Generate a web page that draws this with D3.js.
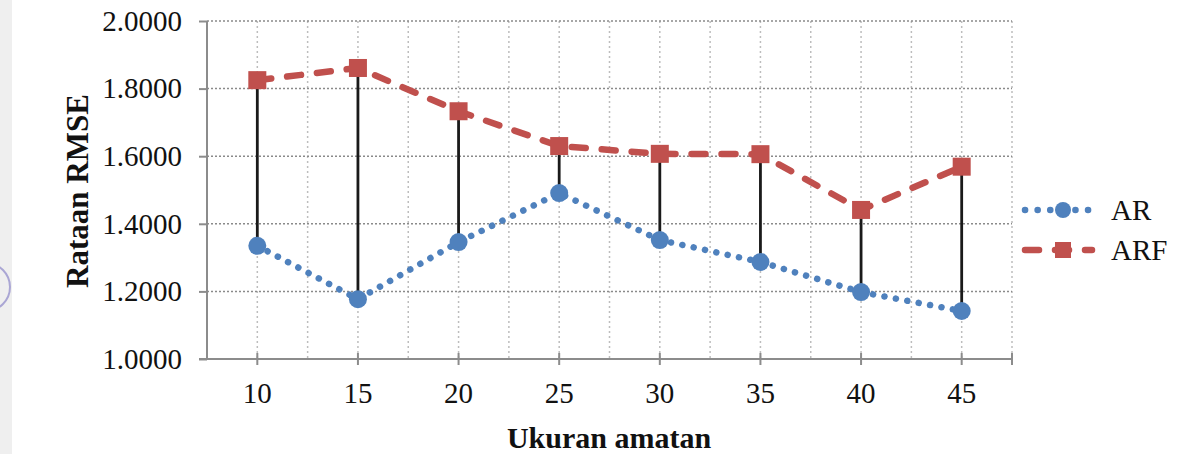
<!DOCTYPE html>
<html>
<head>
<meta charset="utf-8">
<script src="https://cdn.jsdelivr.net/npm/d3@7"></script>
<style>
body { margin: 0; background: #fff; }
svg { display: block; }
</style>
</head>
<body>
<div id="chart"></div>
<script>
var W = 1183, H = 454;

// data
var sizes = ["10", "15", "20", "25", "30", "35", "40", "45"];
var arVals = [1.335, 1.177, 1.346, 1.491, 1.352, 1.287, 1.198, 1.142];
var arfVals = [1.825, 1.861, 1.733, 1.630, 1.607, 1.606, 1.441, 1.569];
var yTicks = [1.0, 1.2, 1.4, 1.6, 1.8, 2.0];
var seriesNames = ["AR", "ARF"];

var pLeft = 207, pRight = 1012, pTop = 21, pBottom = 359;
var blue = "#4f81bd", red = "#c0504d", axisCol = "#8c8c8c";
var font = "'Liberation Serif', 'Times New Roman', serif";

var svg = d3.select("#chart").append("svg")
	.attr("width", W)
	.attr("height", H);

// bits of the page edge showing at the left
svg.append("rect").attr("x", 0).attr("y", 0).attr("width", 12).attr("height", H).attr("fill", "#efefef");
svg.append("circle").attr("cx", -14).attr("cy", 287).attr("r", 24)
	.attr("fill", "none").attr("stroke", "#aaa6d4").attr("stroke-width", 2);

var x = d3.scaleBand().domain(sizes).range([pLeft, pRight]).paddingInner(0).paddingOuter(0);
var y = d3.scaleLinear().domain([1, 2]).range([pBottom, pTop]);
var cx = function(d) { return x(d) + x.bandwidth() / 2; };

// vertical gridlines at every half category
var half = [];
sizes.forEach(function(s) { half.push(x(s) + x.bandwidth() / 2); half.push(x(s) + x.bandwidth()); });
svg.append("g").selectAll("line").data(half).enter().append("line")
	.attr("x1", function(d) { return d; }).attr("x2", function(d) { return d; })
	.attr("y1", pTop).attr("y2", pBottom)
	.attr("stroke", "#bdbdbd").attr("stroke-width", 1.5).attr("stroke-dasharray", "2,3");

// horizontal gridlines
svg.append("g").selectAll("line").data(yTicks.slice(1)).enter().append("line")
	.attr("x1", pLeft).attr("x2", pRight)
	.attr("y1", function(d) { return y(d); }).attr("y2", function(d) { return y(d); })
	.attr("stroke", "#8a8a8a").attr("stroke-width", 1.5).attr("stroke-dasharray", "2,2");

// y axis
var yAxis = d3.axisLeft(y).tickValues(yTicks).tickFormat(d3.format(".4f")).tickSize(8).tickPadding(17);
var gy = svg.append("g").attr("transform", "translate(" + pLeft + ",0)").call(yAxis);
gy.select(".domain").attr("stroke", axisCol).attr("stroke-width", 2).attr("d", "M0," + pTop + "V" + pBottom);
gy.selectAll(".tick line").attr("stroke", axisCol).attr("stroke-width", 2);
gy.selectAll(".tick text").attr("font-family", font).attr("font-size", "29px").attr("fill", "#111");

// x axis
var xAxis = d3.axisBottom(x).tickSize(6).tickPadding(17);
var gx = svg.append("g").attr("transform", "translate(0," + pBottom + ")").call(xAxis);
gx.select(".domain").attr("stroke", axisCol).attr("stroke-width", 2).attr("d", "M" + (pLeft - 8) + ",0H" + pRight);
gx.selectAll(".tick line").attr("stroke", axisCol).attr("stroke-width", 2).attr("y1", -6);
gx.selectAll(".tick text").attr("font-family", font).attr("font-size", "29px").attr("fill", "#111");
gx.append("line").attr("x1", pRight).attr("x2", pRight).attr("y1", -6).attr("y2", 6)
	.attr("stroke", axisCol).attr("stroke-width", 2);

// axis titles
svg.append("text").attr("x", 609).attr("y", 448).attr("text-anchor", "middle")
	.attr("font-family", font).attr("font-weight", "bold").attr("font-size", "30px").attr("fill", "#111")
	.text("Ukuran amatan");
svg.append("text").attr("transform", "translate(88,191) rotate(-90)").attr("text-anchor", "middle")
	.attr("font-family", font).attr("font-weight", "bold").attr("font-size", "31px").attr("fill", "#111")
	.text("Rataan RMSE");

// high-low lines
svg.append("g").selectAll("line").data(sizes).enter().append("line")
	.attr("x1", cx).attr("x2", cx)
	.attr("y1", function(d, i) { return y(arfVals[i]); })
	.attr("y2", function(d, i) { return y(arVals[i]); })
	.attr("stroke", "#1a1a1a").attr("stroke-width", 2.8);

var line = function(vals) {
	return d3.line().x(function(d, i) { return cx(sizes[i]); }).y(function(d) { return y(d); })(vals);
};

// AR dotted
svg.append("path").attr("d", line(arVals)).attr("fill", "none")
	.attr("stroke", blue).attr("stroke-width", 6.5).attr("stroke-linecap", "round")
	.attr("stroke-dasharray", "0.1,11.5");
// ARF dashed
svg.append("path").attr("d", line(arfVals)).attr("fill", "none")
	.attr("stroke", red).attr("stroke-width", 6.5).attr("stroke-linecap", "round")
	.attr("stroke-dasharray", "14,16");

svg.append("g").selectAll("circle").data(arVals).enter().append("circle")
	.attr("cx", function(d, i) { return cx(sizes[i]); }).attr("cy", function(d) { return y(d); })
	.attr("r", 9).attr("fill", blue);

svg.append("g").selectAll("rect").data(arfVals).enter().append("rect")
	.attr("x", function(d, i) { return cx(sizes[i]) - 9; }).attr("y", function(d) { return y(d) - 9; })
	.attr("width", 18).attr("height", 18).attr("fill", red);

// legend
var leg = svg.append("g").attr("transform", "translate(1025,210)");
seriesNames.forEach(function(name, i) {
	var g = leg.append("g").attr("transform", "translate(0," + (i * 40) + ")");
	g.append("line").attr("x1", 0).attr("x2", 67).attr("y1", 0).attr("y2", 0)
		.attr("stroke", i ? red : blue).attr("stroke-width", 6.5).attr("stroke-linecap", "round")
		.attr("stroke-dasharray", i ? "14,16" : "0.1,12.5");
	if (i) {
		g.append("rect").attr("x", 30).attr("y", -8).attr("width", 16).attr("height", 16).attr("fill", red);
	} else {
		g.append("circle").attr("cx", 38).attr("cy", 0).attr("r", 8).attr("fill", blue);
	}
	g.append("text").attr("x", 86).attr("y", 10).attr("font-family", font).attr("font-size", "29px")
		.attr("fill", "#111").text(name);
});
</script>
</body>
</html>
